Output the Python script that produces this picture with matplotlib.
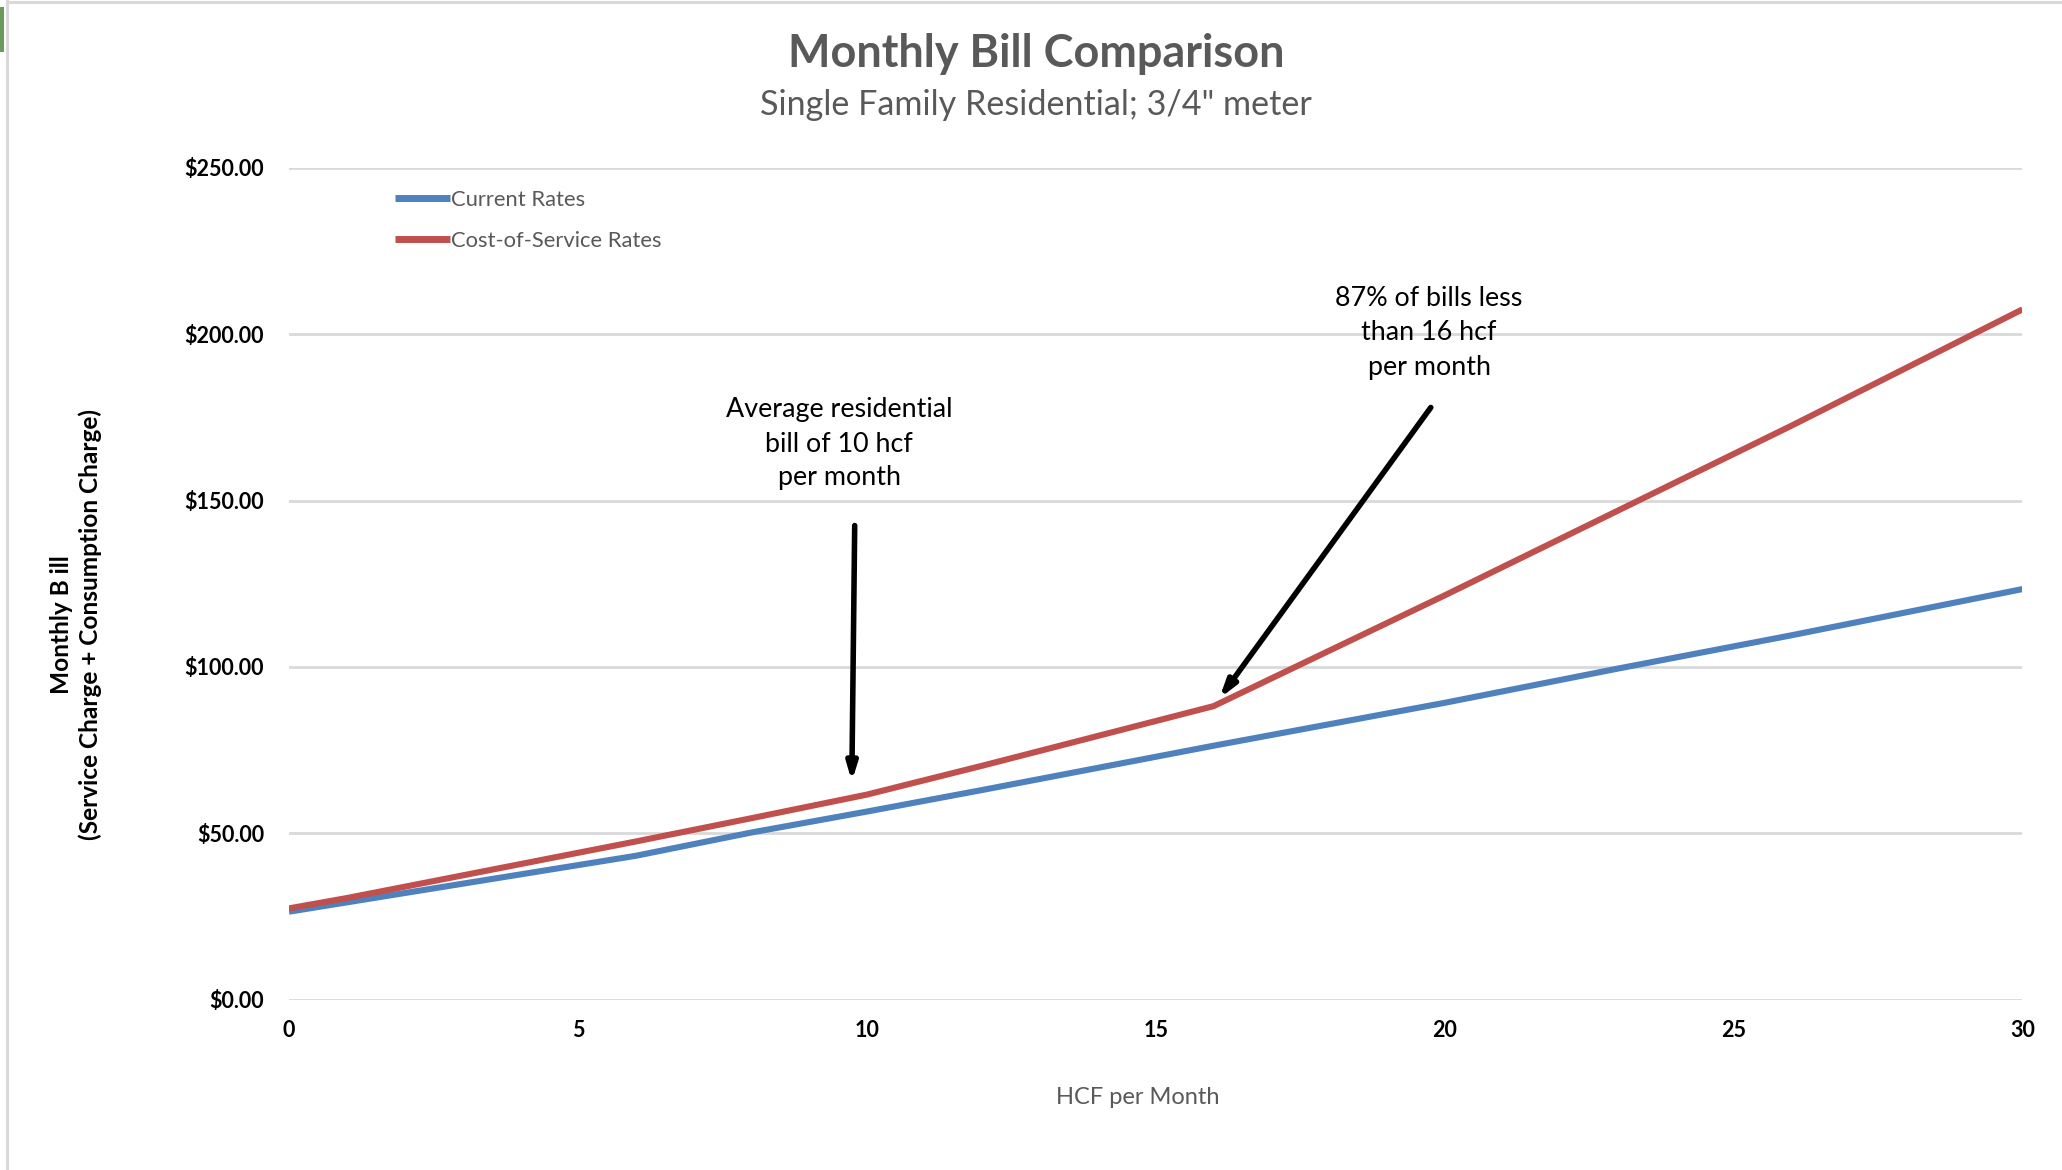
import matplotlib
matplotlib.use("Agg")
import matplotlib.pyplot as plt
from matplotlib.patches import Rectangle
from matplotlib.lines import Line2D

# ---- data ----
hcf = [0, 1, 3, 6, 8, 10, 12, 16, 20, 23, 26, 30]
current_rates = [26.4, 29.2, 34.8, 43.2, 50.2, 56.5, 63.0, 76.3, 89.2, 99.5, 109.5, 123.4]
cos_rates = [27.4, 30.5, 37.3, 47.5, 54.5, 61.6, 70.3, 88.2, 121.5, 147.0, 172.5, 207.5]
series_names = ["Current Rates", "Cost-of-Service Rates"]
y_ticks = [0, 50, 100, 150, 200, 250]
x_ticks = [0, 5, 10, 15, 20, 25, 30]
title = "Monthly Bill Comparison"
subtitle = 'Single Family Residential; 3/4" meter'
x_label = "HCF per Month"
y_label = "Monthly B ill\n(Service Charge + Consumption Charge)"
note1 = "Average residential\nbill of 10 hcf\nper month"
note2 = "87% of bills less\nthan 16 hcf\nper month"

FONT = ["Lato", "DejaVu Sans"]
plt.rcParams["font.family"] = FONT

W, H = 2062, 1170
fig = plt.figure(figsize=(W / 100, H / 100), dpi=100)
fig.patch.set_facecolor("white")

# frame lines of the original chart object
fig.add_artist(Line2D([7 / W, 7 / W], [0, 1 - 1 / H], color="#d9d9d9", lw=2.2))
fig.add_artist(Line2D([7 / W, 1], [1 - 1.5 / H, 1 - 1.5 / H], color="#d9d9d9", lw=2.2))
fig.add_artist(Rectangle((0, 1 - 52 / H), 4 / W, 45 / H, color="#6a9a5b", lw=0))

ax = fig.add_axes([289 / W, 1 - 999.5 / H, (2022.5 - 289) / W, (999.5 - 168) / H])
ax.set_xlim(0, 30)
ax.set_ylim(0, 250)
for s in ax.spines.values():
    s.set_visible(False)
ax.set_yticks(y_ticks)
ax.set_yticklabels([f"${v:.2f}" for v in y_ticks])
ax.set_xticks(x_ticks)
ax.tick_params(length=0, labelsize=15.5, colors="black")
ax.tick_params(axis="y", pad=18)
ax.tick_params(axis="x", pad=15)
for lab in ax.get_xticklabels() + ax.get_yticklabels():
    lab.set_fontweight("bold")
ax.grid(axis="y", color="#d9d9d9", lw=2)
ax.set_axisbelow(True)

l1, = ax.plot(hcf, current_rates, color="#4f81bd", lw=4.4, solid_capstyle="butt")
l2, = ax.plot(hcf, cos_rates, color="#c0504d", lw=4.4, solid_capstyle="butt")

# legend (manual placement to match)
leg = fig.legend([l1, l2], series_names, loc="upper left",
                 bbox_to_anchor=(386 / W, 1 - 181 / H), frameon=False,
                 fontsize=15.8, handlelength=2.5, handletextpad=0.08,
                 labelspacing=0.95, borderaxespad=0)
for t in leg.get_texts():
    t.set_color("#595959")
for h in leg.legend_handles:
    h.set_linewidth(5)

# titles
fig.text(1036 / W, 1 - 54 / H, title, ha="center", va="center",
         fontsize=32.4, fontweight="bold", color="#595959")
fig.text(1036 / W, 1 - 105 / H, subtitle, ha="center", va="center",
         fontsize=24.6, color="#595959")
fig.text(1138 / W, 1 - 1098 / H, x_label, ha="center", va="center",
         fontsize=17, color="#595959")
fig.text(76 / W, 1 - 625 / H, y_label, ha="center", va="center",
         rotation=90, fontsize=17.6, fontweight="bold", color="black",
         linespacing=1.25)

# annotations
ax.annotate("", xy=(9.74, 65.5), xytext=(9.79, 142.5),
            arrowprops=dict(arrowstyle="-|>,head_length=1.0,head_width=0.3",
                            color="black", lw=4, shrinkA=0, shrinkB=0))
ax.annotate("", xy=(16.1, 90.5), xytext=(19.76, 178),
            arrowprops=dict(arrowstyle="-|>,head_length=1.0,head_width=0.3",
                            color="black", lw=4, shrinkA=0, shrinkB=0))
fig.text(839 / W, 1 - 444 / H, note1, ha="center", va="center",
         fontsize=19.4, color="black", linespacing=1.45)
fig.text(1429 / W, 1 - 333 / H, note2, ha="center", va="center",
         fontsize=19.4, color="black", linespacing=1.45)

fig.savefig("out.png", dpi=100, facecolor="white")
